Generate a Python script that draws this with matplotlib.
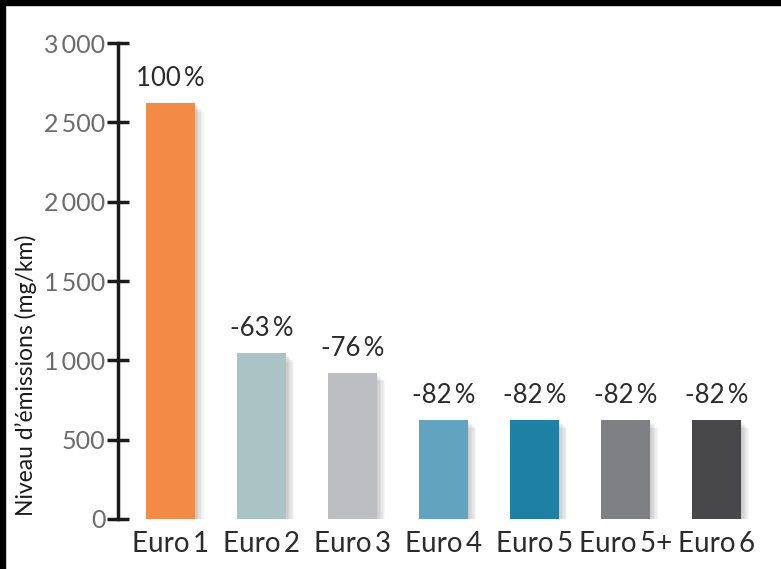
import matplotlib.pyplot as plt
import matplotlib.patheffects as pe
from matplotlib.patches import Rectangle

# --------------------------------------------------
# Data
# --------------------------------------------------
categories = ["Euro\u20091", "Euro\u20092", "Euro\u20093", "Euro\u20094",
              "Euro\u20095", "Euro\u20095+", "Euro\u20096"]
emissions = [2620, 1045, 920, 625, 625, 625, 625]
pct_labels = ["100\u2009%", "-63\u2009%", "-76\u2009%", "-82\u2009%",
              "-82\u2009%", "-82\u2009%", "-82\u2009%"]
colors = ["#F28B45", "#AAC4C6", "#BCBEC1", "#62A3C0",
          "#1E80A4", "#7F8083", "#48484B"]
yticks = [0, 500, 1000, 1500, 2000, 2500, 3000]
ytick_labels = ["0", "500", "1\u2009000", "1\u2009500", "2\u2009000",
                "2\u2009500", "3\u2009000"]

plt.rcParams['font.family'] = ['Lato', 'DejaVu Sans']

# --------------------------------------------------
# Figure
# --------------------------------------------------
fig = plt.figure(figsize=(7.81, 5.69), dpi=100)
ax = fig.add_axes([0.151, 0.0879, 0.836, 0.8365])

x = list(range(len(categories)))
bars = ax.bar(x, emissions, width=0.54, color=colors, zorder=3)
# soft drop shadow built from a few faint offset layers
shadow = [pe.SimplePatchShadow(offset=(d, -d), shadow_rgbFace="#000000", alpha=0.035)
          for d in (1, 2, 3, 4, 5, 6)]
for b in bars:
    b.set_path_effects(shadow + [pe.Normal()])

for xi, v, t in zip(x, emissions, pct_labels):
    ax.text(xi, v + 75, t, ha="center", va="bottom", fontsize=18.5, color="#2b2b2b")

ax.set_xlim(-0.58, 6.6)
ax.set_ylim(0, 3000)

ax.set_yticks(yticks)
ax.set_yticklabels(ytick_labels, fontsize=18, color="#6b6b6b")
ax.tick_params(axis="y", direction="inout", length=16, width=2.5, color="#1a1a1a", pad=1)

ax.set_xticks(x)
ax.set_xticklabels(categories, fontsize=20, color="#2b2b2b")
ax.tick_params(axis="x", length=0, pad=9)

for s in ["top", "right", "bottom"]:
    ax.spines[s].set_visible(False)
ax.spines["left"].set_linewidth(2.5)
ax.spines["left"].set_color("#1a1a1a")

fig.text(0.033, 0.34, "Niveau d\u2019\u00e9missions (mg/km)", rotation=90,
         ha="center", va="center", fontsize=16.5, color="#1a1a1a")

# black frame on top and left edges
fig.patches.append(Rectangle((0, 0), 5 / 781, 1, transform=fig.transFigure,
                             color="black", zorder=10))
fig.patches.append(Rectangle((0, 1 - 5 / 569), 1, 5 / 569, transform=fig.transFigure,
                             color="black", zorder=10))

fig.savefig("out.png", dpi=100)
